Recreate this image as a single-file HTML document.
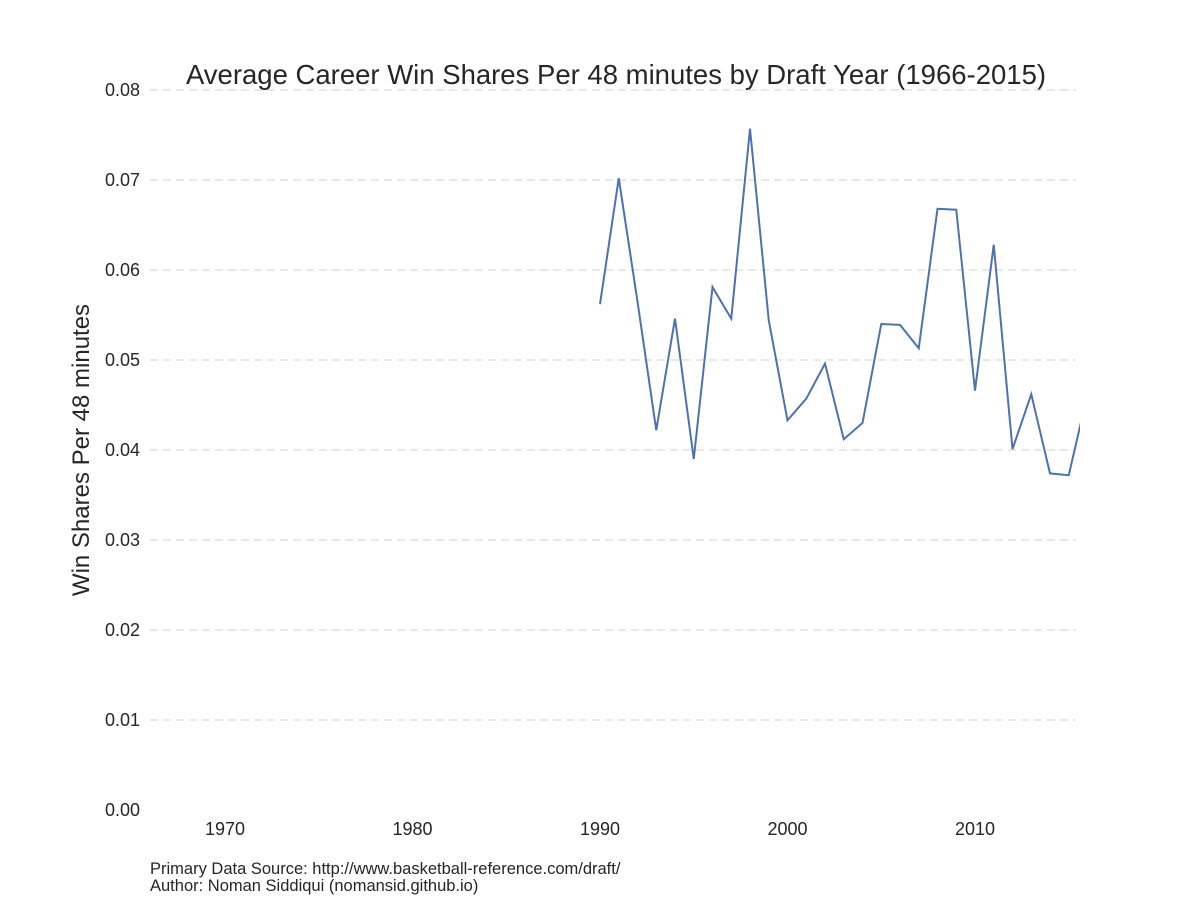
<!DOCTYPE html>
<html><head><meta charset="utf-8">
<style>
body{margin:0;background:#fff;}
svg{display:block;font-family:"Liberation Sans",Arial,sans-serif;}
</style></head>
<body>
<svg id="chart" width="1200" height="900">
<defs><clipPath id="plotclip"><rect x="150" y="80" width="930" height="740"/></clipPath></defs>
<text x="616" y="84" text-anchor="middle" font-size="27.5" fill="#262626">Average Career Win Shares Per 48 minutes by Draft Year (1966-2015)</text>
<text transform="translate(89,450) rotate(-90)" text-anchor="middle" font-size="24" fill="#262626">Win Shares Per 48 minutes</text>
<g id="grid"></g><g id="yticks"></g><g id="xticks"></g>
<path id="line" fill="none" stroke="#4c72b0" stroke-width="2" clip-path="url(#plotclip)"/>
<text x="150" y="874" font-size="16.5" fill="#262626">Primary Data Source: http://www.basketball-reference.com/draft/</text>
<text x="150" y="891" font-size="16.5" fill="#262626">Author: Noman Siddiqui (nomansid.github.io)</text>
</svg>
<script>
const years=[1990,1991,1992,1993,1994,1995,1996,1997,1998,1999,2000,2001,2002,2003,2004,2005,2006,2007,2008,2009,2010,2011,2012,2013,2014,2015,2016];
const values=[0.0562,0.0702,0.0565,0.0422,0.0546,0.0390,0.0581,0.0546,0.0757,0.0544,0.0433,0.0457,0.0496,0.0412,0.0430,0.0540,0.0539,0.0513,0.0668,0.0667,0.0466,0.0628,0.0401,0.0462,0.0374,0.0372,0.0462];
const yTicks=[0,0.01,0.02,0.03,0.04,0.05,0.06,0.07,0.08];
const xTicks=[1970,1980,1990,2000,2010];
const X=v=>225+(v-1970)*18.75;
const Y=v=>810-v*9000;
const ns="http://www.w3.org/2000/svg";
const g=document.getElementById('grid'),yt=document.getElementById('yticks'),xt=document.getElementById('xticks');
yTicks.forEach(t=>{
 if(t>0){const l=document.createElementNS(ns,'line');
 l.setAttribute('x1',150);l.setAttribute('x2',1076);l.setAttribute('y1',Y(t));l.setAttribute('y2',Y(t));
 l.setAttribute('stroke','#d0d0d0');l.setAttribute('stroke-dasharray','8,5');l.setAttribute('stroke-width','1');
 
 
 g.appendChild(l);}
 const tx=document.createElementNS(ns,'text');
 tx.setAttribute('x',140);tx.setAttribute('y',Y(t)+6);tx.setAttribute('text-anchor','end');tx.setAttribute('font-size','18');tx.setAttribute('fill','#262626');
 tx.textContent=t.toFixed(2);
 
 
 yt.appendChild(tx);
});
xTicks.forEach(t=>{
 const tx=document.createElementNS(ns,'text');
 tx.setAttribute('x',X(t));tx.setAttribute('y',835);tx.setAttribute('text-anchor','middle');tx.setAttribute('font-size','18');tx.setAttribute('fill','#262626');
 tx.textContent=t;
 
 
 xt.appendChild(tx);
});
document.getElementById('line').setAttribute('d',years.map((y,i)=>(i?'L':'M')+X(y)+','+Y(values[i])).join(''));
</script>
</body></html>
